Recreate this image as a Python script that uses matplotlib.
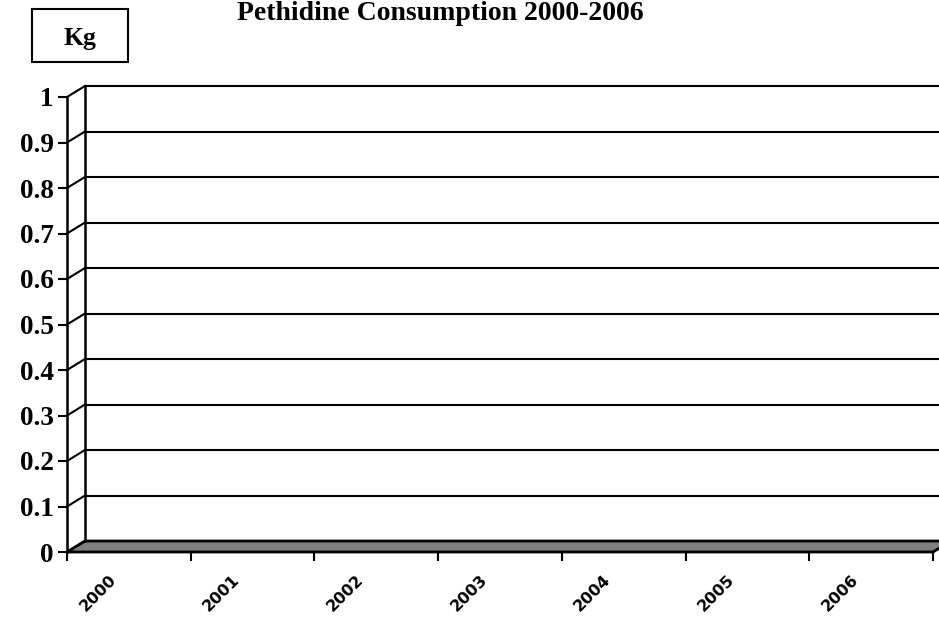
import matplotlib.pyplot as plt
from matplotlib.patches import Polygon, Rectangle

years = ['2000', '2001', '2002', '2003', '2004', '2005', '2006']
consumption = [0, 0, 0, 0, 0, 0, 0]
y_ticks = [0, 0.1, 0.2, 0.3, 0.4, 0.5, 0.6, 0.7, 0.8, 0.9, 1]
y_tick_labels = ['0', '0.1', '0.2', '0.3', '0.4', '0.5', '0.6', '0.7', '0.8', '0.9', '1']

W, H = 939, 617
fig = plt.figure(figsize=(W / 100, H / 100), dpi=100)
# front plane of the 3d box, in pixels: x 67..933, y 552..97
ax = fig.add_axes([67 / W, (H - 552) / H, 866 / W, 455 / H])
n = len(years)
ax.set_xlim(0, n)
ax.set_ylim(0, 1)
for s in ax.spines.values():
    s.set_visible(False)

# depth offset of the back wall
dx = 18 / 866 * n
dy = 11 / 455

# back wall gridlines and left wall
for v in y_ticks:
    if v > 0:
        ax.plot([dx, n + dx + 1], [v + dy, v + dy], color='black', lw=1.5, clip_on=False)
    ax.plot([0, dx], [v, v + dy], color='black', lw=1.5, clip_on=False)
ax.plot([dx, dx], [dy, 1 + dy], color='black', lw=1.8, clip_on=False)
ax.plot([0, 0], [0, 1], color='black', lw=1.8, clip_on=False)

# floor
floor = Polygon([(0, 0), (n, 0), (n + dx, dy), (dx, dy)], closed=True,
                facecolor='#808080', edgecolor='black', lw=2, clip_on=False)
ax.add_patch(floor)

# bars (all zero)
ax.bar([i + 0.5 for i in range(n)], consumption, width=0.6, color='#9999ff',
       edgecolor='black')

ax.set_yticks(y_ticks)
ax.set_yticklabels(y_tick_labels, fontfamily='Liberation Serif', fontweight='bold',
                   fontsize=19.5)
ax.set_xticks(range(n + 1))
ax.set_xticklabels([])
ax.tick_params(axis='both', direction='out', length=6.5, width=1.5, colors='black')
ax.tick_params(axis='y', pad=3)

for i, yr in enumerate(years):
    ax.annotate(yr, xy=(i + 0.25, 0), xytext=(0, -29.5), textcoords='offset points',
                ha='center', va='center', rotation=45, fontsize=11.5,
                fontweight='bold', fontfamily='DejaVu Sans', annotation_clip=False)

fig.text(440 / W, 1 - 19.5 / H, 'Pethidine Consumption 2000-2006', ha='center',
         va='baseline', fontsize=20, fontweight='bold', fontfamily='Liberation Serif')

fig.patches.append(Rectangle((32 / W, 1 - 62 / H), 96 / W, 53 / H, transform=fig.transFigure,
                             facecolor='white', edgecolor='black', lw=1.5))
fig.text(80 / W, 1 - 45 / H, 'Kg', ha='center', va='baseline', fontsize=18.5,
         fontweight='bold', fontfamily='Liberation Serif')

fig.savefig('out.png', dpi=100)
